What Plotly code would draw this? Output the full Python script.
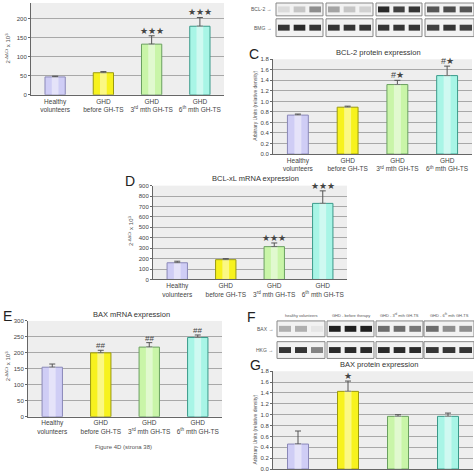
import plotly.graph_objects as go

W = H = 474
FONT = "Liberation Sans, Arial, sans-serif"

categories = ["Healthy<br>volunteers", "GHD<br>before GH-TS",
              "GHD<br>3<sup>rd</sup> mth GH-TS", "GHD<br>6<sup>th</sup> mth GH-TS"]

bcl2_mrna = [47, 58, 133, 180]
bcl2_mrna_err = [2, 3, 22, 23]
bcl2_mrna_sig = ["", "", "★★★", "★★★"]

bcl2_protein = [0.74, 0.89, 1.32, 1.49]
bcl2_protein_err = [0.02, 0.02, 0.08, 0.18]
bcl2_protein_sig = ["", "", "#★", "#★"]

bclxl_mrna = [160, 190, 315, 730]
bclxl_mrna_err = [15, 10, 35, 120]
bclxl_mrna_sig = ["", "", "★★★", "★★★"]

bax_mrna = [155, 200, 218, 248]
bax_mrna_err = [10, 8, 14, 8]
bax_mrna_sig = ["", "##", "##", "##"]

bax_protein = [0.46, 1.43, 0.97, 0.97]
bax_protein_err = [0.24, 0.19, 0.03, 0.06]
bax_protein_sig = ["", "★", "", ""]

bar_fill = ["#cfcdf5", "#f7f21e", "#c9f5a8", "#a8f5e6"]
bar_line = ["#8a88b8", "#9a9a10", "#6aa060", "#3a9a8a"]

def px(x):
    return min(1, max(0, x / W))

def py(y):
    return min(1, max(0, 1 - y / H))

fig = go.Figure()
annotations = []
shapes = []

def label(x, y, text, size, color="#555555", xanchor="center", angle=0):
    annotations.append(dict(x=px(x), y=py(y), xref="paper", yref="paper", text=text,
                            showarrow=False, xanchor=xanchor, yanchor="middle", textangle=angle,
                            font=dict(size=size, color=color, family=FONT)))

# values, errs, sigs, x-pixels, y-pixels(top,bottom), ymax, dtick, title, letter, letter-pos, ylabel kind, ylabel center, show x labels
panels = [
    (bcl2_mrna, bcl2_mrna_err, bcl2_mrna_sig, (31, 224), (0, 93), 241, 50, None, None, None,
     "mrna", (8, 46), True),
    (bcl2_protein, bcl2_protein_err, bcl2_protein_sig, (273, 472), (57, 153), 1.8, 0.2,
     "BCL-2 protein expression", "C", (254, 52), "prot", (255, 104), True),
    (bclxl_mrna, bclxl_mrna_err, bclxl_mrna_sig, (153, 347), (185, 280), 900, 100,
     "BCL-xL mRNA expression", "D", (130, 180), "mrna", (131, 231), True),
    (bax_mrna, bax_mrna_err, bax_mrna_sig, (28, 222), (322, 419), 300, 50,
     "BAX mRNA expression", "E", (8, 317), "mrna", (8, 368), True),
    (bax_protein, bax_protein_err, bax_protein_sig, (273, 473), (373, 472), 1.8, 0.2,
     "BAX protein expression", "G", (255, 367), "prot", (255, 432), False),
]

layout_axes = {}
for i, (vals, errs, sigs, (x0, x1), (y0, y1), ymax, dt, title, letter, lpos,
        ylab, ypos, showx) in enumerate(panels):
    n = "" if i == 0 else str(i + 1)
    xa, ya = "x" + n, "y" + n
    fig.add_trace(go.Bar(
        x=categories, y=vals, xaxis=xa, yaxis=ya, width=0.42,
        marker=dict(color=bar_fill, line=dict(color=bar_line, width=1)),
        error_y=dict(type="data", array=errs, symmetric=False, arrayminus=[0]*4,
                     color="#555555", thickness=1, width=3),
        showlegend=False,
    ))
    fig.add_trace(go.Bar(
        x=categories, y=vals, xaxis=xa, yaxis=ya, width=0.14,
        marker=dict(color="rgba(255,255,255,0.45)", line=dict(width=0)),
        showlegend=False, hoverinfo="skip",
    ))
    fmt = ".1f" if dt < 1 else "d"
    layout_axes["xaxis" + n] = dict(
        domain=[px(x0), px(x1)], anchor=ya, range=[-0.5, 3.5], type="category",
        showgrid=False, showline=True, linecolor="#666666", linewidth=1,
        ticks="", showticklabels=showx, tickfont=dict(size=6.5, color="#444444", family=FONT),
        fixedrange=True,
    )
    layout_axes["yaxis" + n] = dict(
        domain=[py(y1), py(y0)], anchor=xa, range=[0, ymax], dtick=dt, tickformat=fmt,
        showgrid=True, gridcolor="#a8a8a8", gridwidth=1,
        showline=True, linecolor="#666666", linewidth=1, ticks="outside", ticklen=2,
        tickcolor="#666666", tickfont=dict(size=6, color="#444444", family=FONT),
        zeroline=False, fixedrange=True,
    )
    for c, v, e, s in zip(categories, vals, errs, sigs):
        if s:
            annotations.append(dict(x=c, y=v + e, xref=xa, yref=ya, text=s, showarrow=False,
                                    xanchor="center", yanchor="bottom", yshift=-2,
                                    font=dict(size=9 if "★" in s else 8, color="#444444", family=FONT)))
    if title:
        label((x0 + x1) / 2 + 6, y0 - 7, title, 7.5, "#333333")
    if letter:
        label(lpos[0], lpos[1], letter, 14, "#222222")
    ytxt = ("2<sup>-ΔΔCt</sup> x 10<sup>3</sup>" if ylab == "mrna"
            else "Arbitrary Units (relative density)")
    label(ypos[0], ypos[1], ytxt, 5 if ylab == "prot" else 6, angle=-90)

label(123, 450, "Figure 4D (strona 38)", 6)

def blot(boxes, rows, intensities, labels, label_x):
    for (ry0, ry1), lab, inten in zip(rows, labels, intensities):
        for bi, (bx0, bx1) in enumerate(boxes):
            shapes.append(dict(type="rect", xref="paper", yref="paper",
                               x0=px(bx0), x1=px(bx1), y0=py(ry1), y1=py(ry0),
                               fillcolor="#f2f2f2", line=dict(color="#888888", width=1)))
            lw = (bx1 - bx0) / 3
            for li in range(3):
                a = inten[bi][li]
                cy = (ry0 + ry1) / 2
                shapes.append(dict(type="rect", xref="paper", yref="paper",
                                   x0=px(bx0 + li * lw + 2), x1=px(bx0 + (li + 1) * lw - 2),
                                   y0=py(cy + 3), y1=py(cy - 3),
                                   fillcolor="rgba(20,20,20,%.2f)" % a, line=dict(width=0)))
        label(label_x, (ry0 + ry1) / 2, lab + " →", 5, xanchor="right")

top_boxes = [(276, 323), (326, 373), (376, 422), (425, 474)]
blot(top_boxes, [(0, 13), (16, 34)],
     [[[0.1, 0.2, 0.45], [0.35, 0.2, 0.15], [0.9, 0.8, 0.85], [0.7, 0.75, 0.7]],
      [[0.85, 0.9, 0.85], [0.85, 0.85, 0.85], [0.85, 0.85, 0.85], [0.8, 0.85, 0.8]]],
     ["BCL-2", "BMG"], 274)

f_boxes = [(277, 325), (327, 374), (376, 423), (424, 474)]
blot(f_boxes, [(322, 338), (343, 360)],
     [[[0.3, 0.3, 0.05], [0.95, 0.95, 0.95], [0.6, 0.6, 0.55], [0.6, 0.45, 0.45]],
      [[0.85, 0.85, 0.5], [0.9, 0.9, 0.9], [0.9, 0.9, 0.9], [0.85, 0.85, 0.85]]],
     ["BAX", "HKG"], 275)

f_labels = ["healthy volunteers", "GHD - before therapy", "GHD - 3<sup>rd</sup> mth GH-TS",
            "GHD - 6<sup>th</sup> mth GH-TS"]
for (bx0, bx1), t in zip(f_boxes, f_labels):
    label((bx0 + bx1) / 2, 316, t, 4)
label(252, 318, "F", 14, "#222222")

fig.update_layout(
    width=W, height=H, margin=dict(l=0, r=0, t=0, b=0),
    paper_bgcolor="white", plot_bgcolor="#eeeeee",
    bargap=0.5, barmode="overlay",
    annotations=annotations, shapes=shapes,
    font=dict(family=FONT), **layout_axes,
)

fig.write_html("out.html", config={"displayModeBar": False},
               post_script="document.body.style.margin='0';document.body.style.overflow='hidden';")
